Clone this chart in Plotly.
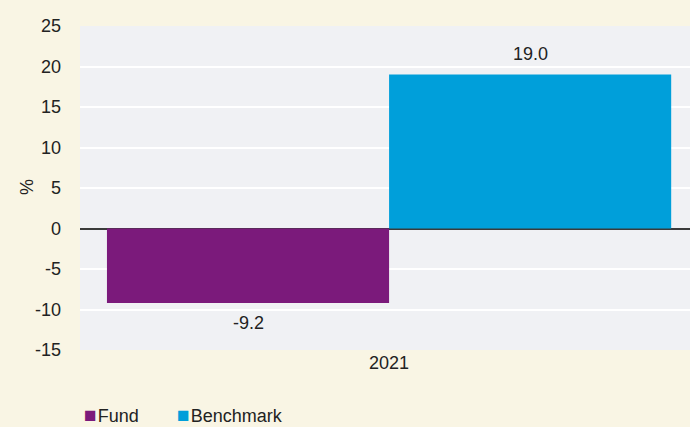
import plotly.graph_objects as go

categories = ["2021"]
series_names = ["Fund", "Benchmark"]
fund_values = [-9.2]
benchmark_values = [19.0]
colors = ["#7b1a7b", "#009fda"]
ytick_vals = [-15, -10, -5, 0, 5, 10, 15, 20, 25]
ytick_text = [str(v) for v in ytick_vals]
y_title = "%"

font = "Liberation Sans, Arial, sans-serif"
fs = 18
bargap = 0.1
fig = go.Figure()
series = [fund_values, benchmark_values]
n = len(series)
for i, (name, vals, c) in enumerate(zip(series_names, series, colors)):
    fig.add_trace(go.Bar(
        x=list(range(len(vals))), y=vals, name=name,
        marker=dict(color=c, line=dict(width=0)), showlegend=False,
    ))
    w = (1 - bargap) / n
    for j, v in enumerate(vals):
        fig.add_annotation(
            x=j - (1 - bargap) / 2 + w * (i + 0.5), y=v, text=f"{v:.1f}",
            showarrow=False, yanchor="bottom" if v >= 0 else "top",
            yshift=9 if v >= 0 else -8,
            font=dict(size=fs, color="#222222", family=font),
        )

# legend drawn as text
legend_x = [0.003, 0.155]
for name, c, lx in zip(series_names, colors, legend_x):
    fig.add_annotation(
        xref="paper", yref="paper", x=lx, y=-0.2, xanchor="left", yanchor="middle",
        text=f"<span style='color:{c};font-size:21px'>■</span><span style='font-size:4px'> </span>{name}",
        showarrow=False, font=dict(size=fs, color="#222222", family=font),
    )

# y-axis title
fig.add_annotation(
    xref="paper", yref="paper", x=-0.087, y=0.503, xanchor="center", yanchor="middle",
    text=y_title, textangle=-90, showarrow=False,
    font=dict(size=fs, color="#222222", family=font),
)

fig.update_layout(
    width=690, height=427,
    margin=dict(l=80, r=0, t=26, b=77),
    paper_bgcolor="#f9f5e4", plot_bgcolor="#f0f1f4",
    barmode="group", bargap=bargap, bargroupgap=0,
    font=dict(family=font, size=fs, color="#222222"),
    showlegend=False,
    xaxis=dict(range=[-0.493, 0.480], tickvals=list(range(len(categories))), ticktext=categories,
               showgrid=False, zeroline=False, ticks="", tickfont=dict(size=fs)),
    yaxis=dict(range=[-15, 25], tickvals=ytick_vals, ticktext=ytick_text, showgrid=True,
               gridcolor="#ffffff", gridwidth=2, zeroline=True, zerolinecolor="#3a3a3a",
               zerolinewidth=2, ticks="", tickfont=dict(size=fs), ticklabelstandoff=18),
)
fig.write_html("out.html", config={"displayModeBar": False},
               post_script="document.body.style.margin='0';document.body.style.overflow='hidden';")
